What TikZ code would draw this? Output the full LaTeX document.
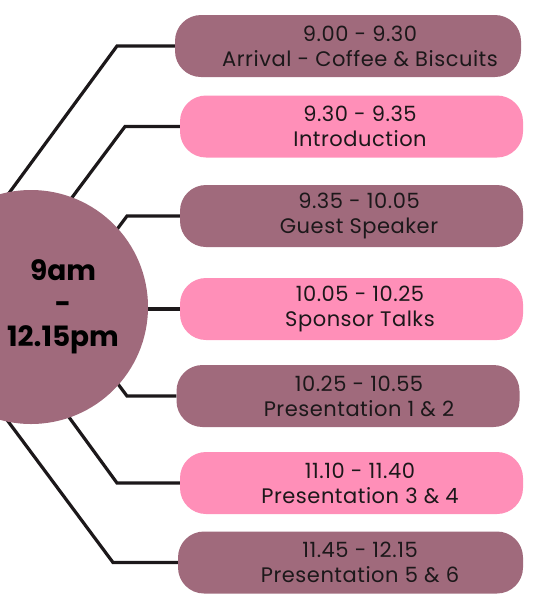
\documentclass[tikz,border=0pt]{standalone}
\usepackage{fontspec}
\setmainfont{Poppins}
\newfontfamily\slotfont[LetterSpace=2.5]{Poppins}
\definecolor{mauve}{RGB}{160,106,124}
\definecolor{rosa}{RGB}{255,143,184}
\definecolor{ink}{RGB}{28,24,26}

\begin{document}
\begin{tikzpicture}[x=1pt, y=-1pt,
  slot/.style={rounded corners=26pt, minimum width=343pt, minimum height=62pt, inner sep=0pt},
  slottext/.style={align=center, inner sep=0pt, text=ink, font=\slotfont\fontsize{21}{25}\selectfont},
  link/.style={line width=3.2pt, draw=ink}]
  \useasboundingbox (0,0) rectangle (547,606);
  % time slots
  \node[slot, fill=mauve, minimum width=346pt] (arrival) at (348,46) {};
  \node[slot, fill=rosa] (intro) at (351.5,126.5) {};
  \node[slot, fill=mauve] (guest) at (351.5,216) {};
  \node[slot, fill=rosa] (sponsor) at (351.5,309) {};
  \node[slot, fill=mauve] (pres12) at (348,396) {};
  \node[slot, fill=rosa] (pres34) at (351.5,483) {};
  \node[slot, fill=mauve, minimum width=345pt] (pres56) at (350.5,562.5) {};
  \node[slottext] (arrivaltext) at (360,46) {9.00 - 9.30\\Arrival - Coffee \& Biscuits};
  \node[slottext] (introtext) at (360,126.5) {9.30 - 9.35\\Introduction};
  \node[slottext] (guesttext) at (359,216) {9.35 - 10.05\\Guest Speaker};
  \node[slottext] (sponsortext) at (360,309) {10.05 - 10.25\\Sponsor Talks};
  \node[slottext] (pres12text) at (359,396) {10.25 - 10.55\\Presentation 1 \& 2};
  \node[slottext] (pres34text) at (360,483) {11.10 - 11.40\\Presentation 3 \& 4};
  \node[slottext] (pres56text) at (360,562.5) {11.45 - 12.15\\Presentation 5 \& 6};
  % elbows and ends under the circle
  \coordinate (k1) at (117,46);  \coordinate (e1) at (-10,219);
  \coordinate (k2) at (125,126.5); \coordinate (e2) at (50,227);
  \coordinate (k3) at (127,216); \coordinate (e3) at (97,256);
  \coordinate (e4) at (100,309);
  \coordinate (k5) at (127,396); \coordinate (e5) at (97,356);
  \coordinate (k6) at (117,483); \coordinate (e6) at (47,387);
  \coordinate (k7) at (113,562.5); \coordinate (e7) at (-10,397);
  \draw[link] (arrival.west) -- (k1) -- (e1);
  \draw[link] (intro.west) -- (k2) -- (e2);
  \draw[link] (guest.west) -- (k3) -- (e3);
  \draw[link] (sponsor.west) -- (e4);
  \draw[link] (pres12.west) -- (k5) -- (e5);
  \draw[link] (pres34.west) -- (k6) -- (e6);
  \draw[link] (pres56.west) -- (k7) -- (e7);
  % hub
  \node[circle, fill=mauve, minimum size=234pt, inner sep=0pt] (hub) at (31,307) {};
  \node[align=center, text=black, font=\bfseries\fontsize{28}{33}\selectfont] (span) at (63,307) {9am\\-\\12.15pm};
\end{tikzpicture}
\end{document}
